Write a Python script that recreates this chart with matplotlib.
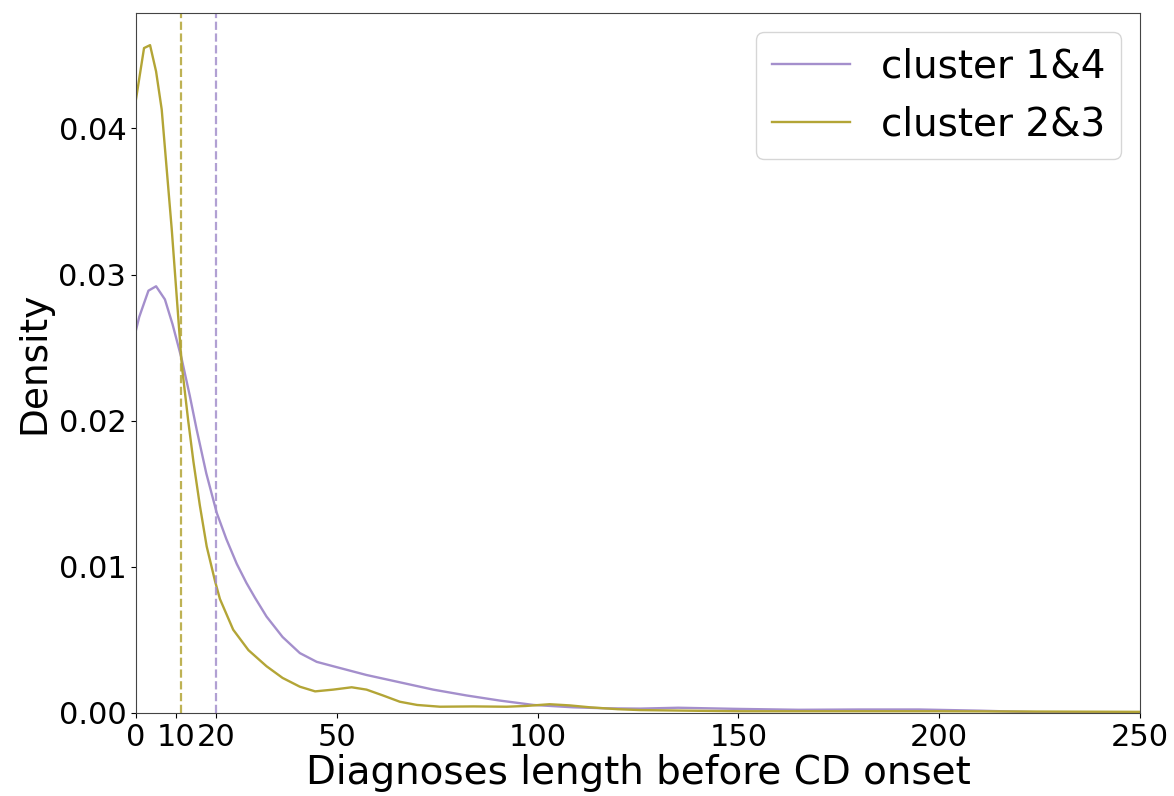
import matplotlib.pyplot as plt

# KDE curves (x = diagnoses length, y = density)
x_14 = [0, 0.8, 3.1, 5.0, 7.2, 9.1, 11.4, 13.4, 15.1, 17.5, 20.1, 22.5, 25.1, 27.5,
        29.6, 32.5, 36.5, 40.8, 45.0, 49.1, 57.4, 65.7, 74.0, 82.3, 90.6, 99.0,
        108.8, 117.0, 125.5, 135.0, 150.0, 165.0, 180.0, 195.0, 210.0, 225.0,
        240.0, 250.0]
y_14 = [0.0262, 0.0271, 0.0289, 0.0292, 0.0283, 0.0266, 0.0242, 0.0217, 0.0194,
        0.0164, 0.0137, 0.0119, 0.0102, 0.0089, 0.0079, 0.0066, 0.0052, 0.0041,
        0.0035, 0.0032, 0.0026, 0.0021, 0.0016, 0.0012, 0.00085, 0.00055,
        0.00039, 0.00032, 0.00030, 0.00036, 0.00028, 0.00022, 0.00024, 0.00024,
        0.00016, 0.00005, 0.00002, 0.00001]

x_23 = [0, 2.0, 3.5, 5.0, 6.4, 8.9, 11.4, 13.0, 14.3, 15.9, 17.6, 19.7, 20.9, 24.2,
        28.0, 32.5, 36.5, 40.8, 44.6, 49.1, 53.7, 57.4, 61.5, 65.7, 70.0, 75.7,
        84.0, 92.3, 97.0, 103.0, 108.0, 113.0, 120.0, 125.5, 140.0, 150.4, 175.0,
        200.0, 225.0, 250.0]
y_23 = [0.0420, 0.0455, 0.0457, 0.0439, 0.0413, 0.0331, 0.0238, 0.0200, 0.0172,
        0.0142, 0.0114, 0.0090, 0.0078, 0.0057, 0.0043, 0.0032, 0.0024, 0.0018,
        0.00148, 0.0016, 0.00176, 0.0016, 0.0012, 0.00077, 0.00055, 0.00043,
        0.00045, 0.00043, 0.00048, 0.0006, 0.00052, 0.00039, 0.00026, 0.0002,
        0.00015, 0.00012, 0.00012, 0.00012, 0.0001, 0.00008]

mean_14 = 20.0
mean_23 = 11.3

labels = ["cluster 1&4", "cluster 2&3"]
x_ticks = [0, 10, 20, 50, 100, 150, 200, 250]
y_ticks = [0.00, 0.01, 0.02, 0.03, 0.04]

purple = "#a48fcc"
olive = "#b3a536"

fig = plt.figure(figsize=(11.74, 7.96), dpi=100)
ax = fig.add_axes([136 / 1174, 1 - 713 / 796, (1140 - 136) / 1174, (713 - 13) / 796])

ax.plot(x_14, y_14, color=purple, linewidth=1.7, label=labels[0])
ax.plot(x_23, y_23, color=olive, linewidth=1.7, label=labels[1])
ax.axvline(mean_14, color=purple, linestyle="--", linewidth=1.6, alpha=0.85)
ax.axvline(mean_23, color=olive, linestyle="--", linewidth=1.6, alpha=0.85)

ax.set_xlim(0, 250)
ax.set_ylim(0, 0.0479)
ax.set_xticks(x_ticks)
ax.set_yticks(y_ticks)
ax.tick_params(axis="both", labelsize=22)
ax.set_xlabel("Diagnoses length before CD onset", fontsize=28, labelpad=2)
ax.set_ylabel("Density", fontsize=27)
for spine in ax.spines.values():
    spine.set_color("#444444")

ax.legend(loc="upper right", fontsize=28, handlelength=2.0, handletextpad=0.8)

fig.savefig("out.png", dpi=100)
